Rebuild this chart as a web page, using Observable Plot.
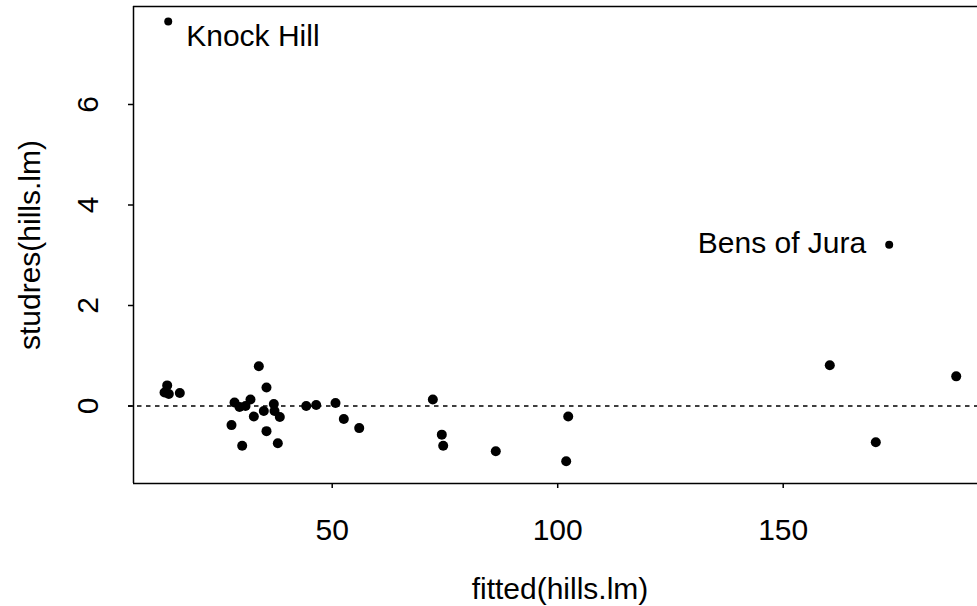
<!DOCTYPE html>
<html>
<head>
<meta charset="utf-8">
<script src="https://cdn.jsdelivr.net/npm/d3@7"></script>
<script src="https://cdn.jsdelivr.net/npm/@observablehq/plot@0.6"></script>
<style>
  html, body { margin: 0; padding: 0; background: #fff; }
  #chart svg { display: block; }
</style>
</head>
<body>
<div id="chart"></div>
<script>
// Studentized residuals against fitted values for the hill-race regression.
const fittedTime = [13.41, 12.82, 13.77, 16.21, 33.73, 35.43, 28.34, 29.45, 30.78, 31.88,
  32.62, 34.83, 37.05, 37.21, 38.38, 27.67, 35.43, 30.04, 37.94, 44.24,
  46.45, 50.73, 52.57, 55.99, 72.31, 74.30, 74.61, 86.27, 102.33, 101.88,
  160.33, 188.36, 170.53];
const studentizedResid = [0.41, 0.27, 0.24, 0.26, 0.79, 0.37, 0.07, -0.02, 0.00, 0.13,
  -0.21, -0.10, 0.04, -0.10, -0.22, -0.38, -0.50, -0.79, -0.74, 0.00,
  0.02, 0.06, -0.26, -0.44, 0.13, -0.57, -0.79, -0.90, -0.21, -1.10,
  0.81, 0.59, -0.72];

// The two races picked out by name
const outlierNames = ["Knock Hill", "Bens of Jura"];
const outlierFitted = [13.64, 173.50];
const outlierResid = [7.65, 3.21];

const xTicks = [50, 100, 150];
const yTicks = [0, 2, 4, 6];
const xLabel = "fitted(hills.lm)";
const yLabel = "studres(hills.lm)";

const xDomain = [5.94, 193.08];
const yDomain = [-1.542, 7.95];

const points = fittedTime.map((f, i) => ({fitted: f, resid: studentizedResid[i]}));
const outliers = outlierNames.map((name, i) => ({name, fitted: outlierFitted[i], resid: outlierResid[i]}));

const knock = outliers.filter(d => d.name === "Knock Hill");
const bens = outliers.filter(d => d.name === "Bens of Jura");

const chart = Plot.plot({
  width: 977,
  height: 606,
  marginLeft: 133,
  marginRight: 0,
  marginTop: 6,
  marginBottom: 123,
  style: {fontFamily: "'Liberation Sans', Arial, Helvetica, sans-serif", fontSize: "30px", color: "#000", background: "#fff"},
  x: {domain: xDomain},
  y: {domain: yDomain},
  marks: [
    // plot box (left, top, bottom edges)
    Plot.ruleX([xDomain[0]], {stroke: "#000", strokeWidth: 1.5}),
    Plot.ruleY(yDomain, {stroke: "#000", strokeWidth: 1.5}),
    // reference line at zero
    Plot.ruleY([0], {stroke: "#000", strokeWidth: 1.5, strokeDasharray: "4.5,4.5", insetLeft: -5}),
    // axes
    Plot.axisX({ticks: xTicks, tickSize: 5, tickPadding: 30, strokeWidth: 1.5, label: null, tickFormat: d => String(d)}),
    Plot.axisY({ticks: yTicks, tickSize: 5, strokeWidth: 1.5, label: null, tickFormat: () => ""}),
    Plot.text(yTicks, {y: d => d, text: d => String(d), frameAnchor: "left", rotate: -90, dx: -35.5, textAnchor: "middle", lineAnchor: "bottom", fill: "#000"}),
    Plot.text([xLabel], {text: d => d, frameAnchor: "bottom", dx: 4.5, dy: 115.5, textAnchor: "middle", lineAnchor: "bottom", fill: "#000"}),
    Plot.text([yLabel], {text: d => d, frameAnchor: "left", rotate: -90, dx: -103, textAnchor: "middle", lineAnchor: "middle", fill: "#000"}),
    // residuals
    Plot.dot(points, {x: "fitted", y: "resid", r: 5, fill: "#000", stroke: null}),
    Plot.dot(outliers, {x: "fitted", y: "resid", r: 4, fill: "#000", stroke: null}),
    Plot.text(knock, {x: "fitted", y: "resid", text: "name", textAnchor: "start", lineAnchor: "bottom", dx: 18, dy: 24.3, fill: "#000"}),
    Plot.text(bens, {x: "fitted", y: "resid", text: "name", textAnchor: "end", lineAnchor: "bottom", dx: -23, dy: 8.3, fill: "#000"})
  ]
});

document.getElementById("chart").appendChild(chart);
</script>
</body>
</html>
